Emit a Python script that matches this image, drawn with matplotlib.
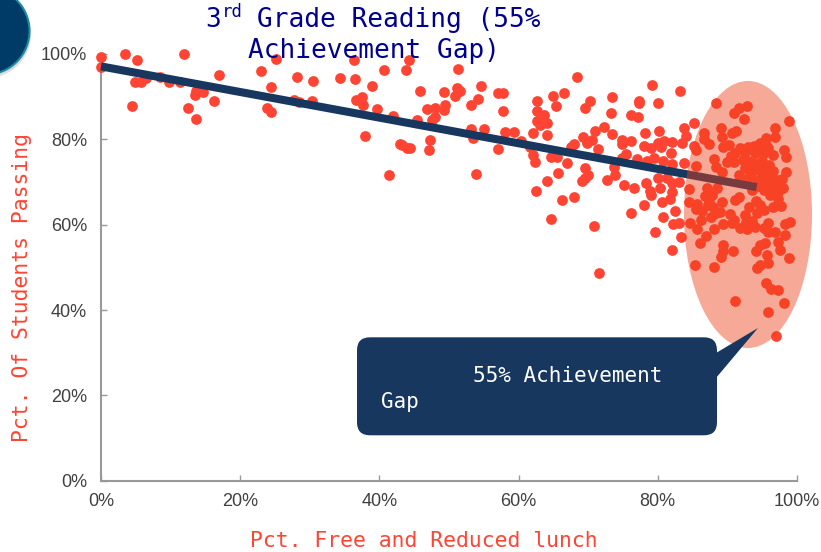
import matplotlib
matplotlib.use("Agg")
import matplotlib.pyplot as plt
from matplotlib.patches import Circle, Ellipse, FancyBboxPatch, Polygon

# (pct free/reduced lunch, pct passing)
low_lunch = [
    (0, 99.2), (0, 97), (3.5, 100), (5.2, 98.6), (4.9, 93.5), (5.7, 93.5), (6.4, 94.4), (4.5, 87.7),
    (8.5, 94.7), (9.7, 93.5), (11.4, 93.5), (11.9, 100), (13.5, 90.5), (13.7, 91.4), (14.7, 91.2),
    (12.5, 87.3), (13.6, 84.7), (16.3, 88.9), (17, 95.1), (23, 96), (24.4, 92.3), (25.2, 98.9),
    (23.8, 87.3), (24.4, 86.5), (28.1, 94.5), (30.5, 93.6), (27.7, 89.2), (28.4, 88.8), (30.3, 89.1),
    (34.3, 94.3), (36.5, 94.1), (36.3, 98.5), (38.9, 92.5), (37.5, 89.9), (36.7, 89.2), (37.7, 88),
    (39.6, 87), (38, 80.7), (41.9, 85.5), (41.4, 71.7), (40.6, 96.2), (42.9, 79), (43.2, 78.7),
    (43.9, 78), (44.2, 98.6), (43.8, 96.2),
]
mid_lunch = [
    (51.25, 96.5), (45.8, 91.3), (49.3, 91.1), (51.1, 92), (51.6, 91.3), (50.9, 90.2), (54.6, 92.6),
    (54.1, 89.5), (53.2, 88.1), (57.1, 90.9), (57.8, 90.9), (57.7, 86.6), (46.9, 87.2), (48, 87.3),
    (49.3, 86.9), (49.4, 88.1), (48, 85.2), (47.5, 84.5), (45.4, 84.5), (47.3, 79.8), (47.1, 77.4),
    (44.4, 78), (53.1, 82.4), (53.4, 80.2), (55.1, 82.5), (58.1, 81.8), (59.4, 81.7), (57.1, 77.7),
    (53.9, 71.9), (60.4, 79.5), (61.7, 78.1), (62, 76.3), (62.4, 74.6), (62.6, 88.9), (62.6, 86.6),
    (63.6, 85.7), (62.7, 84.2), (63.1, 83.4), (64.1, 83.8), (62.1, 81.4), (64.1, 80.9), (65, 90.2),
    (66.5, 90.8), (65.4, 87.7), (68.4, 94.5), (70.2, 89.1), (69.6, 87.4), (73.4, 90), (73.3, 86.2),
    (76.1, 85.8), (77.2, 85.2), (77.3, 89.1), (77.3, 88.6), (80, 88.6), (79.1, 92.7), (83.2, 91.3),
    (83.8, 82.7), (84.1, 80.8), (83.5, 79.1), (80.2, 82), (78.1, 81.4), (76.1, 79.6), (74.9, 79.9),
    (74.9, 78.9), (73.4, 81.2), (72.3, 82.8), (71, 82), (69.2, 80.6), (70.6, 79.9), (69.8, 79.1),
    (68, 78.9), (67.5, 78.1), (71.4, 77.7), (75.5, 76.5), (74.8, 75.7), (77, 75.5), (78, 78.5),
    (79, 77.9), (80, 79.2), (80.9, 79.7), (80.4, 78.1), (82.1, 79.4), (81.9, 76.7), (79.4, 75.7),
    (78.5, 75), (80.8, 75), (82.1, 74.2), (83.7, 74.4), (64.6, 75.8), (65.5, 75.8), (66.9, 74.4),
    (69.6, 73.4), (65.6, 72), (64.1, 70.2), (62.5, 67.8), (66.2, 65.8), (68, 66.4), (64.7, 61.4),
    (70.9, 59.7), (71.6, 48.6), (70, 71.6), (69.6, 70.9), (69.1, 70.3), (72.7, 70.4), (73.8, 71.6),
    (73.7, 73.6), (75.2, 69.2), (76.6, 68.7), (78.3, 69.7), (78.9, 68), (79, 67), (78, 64.6),
    (76.1, 62.7), (80.1, 70.9), (81.3, 70.9), (80.3, 68.5), (80.6, 65.4), (82, 67.7), (81.8, 66),
    (82, 69.7), (83, 70.1), (80.7, 61.8), (82.5, 63.2), (79.6, 58.2), (82.2, 60.2), (83.1, 60.3),
    (83.4, 57.1), (82.1, 54),
]
high_lunch = [
    (85.2, 83.8), (88.3, 88.4), (91.6, 87.3), (92.8, 87.8), (90.9, 86.1), (92.4, 84.7), (98.9, 84.2),
    (96.9, 82.6), (89.1, 82.7), (91.3, 82), (90.6, 81.6), (86.6, 81.6), (89.2, 80.5), (96.9, 80.5),
    (95.6, 80.2), (86.6, 80), (87.3, 78.9), (85.2, 78.4), (85.5, 77.5), (89.4, 78.1), (90.3, 78.7),
    (94.7, 79.1), (93, 78.3), (91.8, 77.9), (95.9, 77.9), (98.2, 77.4), (98.4, 75.9), (96.6, 76.3),
    (94, 76.7), (91.1, 76.7), (95.2, 76.7), (88.1, 75.5), (89.9, 74.8), (90.9, 74.8), (92.3, 75.2),
    (88.4, 73.5), (85.5, 73.8), (89.2, 72.4), (92.5, 73.2), (94.7, 74), (93.7, 72.8), (91.6, 71.7),
    (93.3, 71.7), (98.4, 72.3), (97.8, 70.6), (95.2, 71.3), (97.1, 70.5), (94.2, 70.5), (95.7, 69.7),
    (98, 68.5), (93.5, 68.1), (95.2, 68.1), (96.1, 67), (84.5, 68.3), (87, 68.5), (88.5, 68.5),
    (86.8, 66.7), (87.8, 67), (91.6, 66.6), (91.1, 65.8), (84.5, 65.4), (85.7, 64.9), (89.2, 65.2),
    (87.3, 65.4), (85.5, 63.7), (88, 64.2), (97.3, 66), (96.5, 64.2), (97.7, 64.4), (93.1, 64.2),
    (94.7, 64.5), (88.4, 62.7), (87.7, 61.7), (86.2, 61.1), (90.4, 62.5), (92.5, 62.3), (94.2, 62.7),
    (89.4, 60.2), (90.6, 60.5), (84.6, 60.3), (85.6, 58.9), (88.1, 59), (91.8, 59.2), (92.8, 58.9),
    (94, 59.5), (95.9, 60.3), (95.2, 59.2), (95.9, 58.4), (96.9, 58.3), (99, 60.6), (98.3, 60.1),
    (98.3, 57.6), (86.9, 57.4), (86, 55.8), (97.3, 56), (97.6, 54.1), (95.4, 55.6), (94.7, 55.3),
    (94.1, 53.8), (89.3, 55.3), (90.8, 53.8), (89.4, 53.9), (89.1, 52.5), (95.7, 52.9), (98.9, 52.1),
    (85.3, 50.5), (88.1, 50), (95.9, 51), (94.7, 50.6), (94.2, 49.9), (95.5, 46.4), (96.2, 44.9),
    (97.2, 44.6), (91.1, 42.2), (98.1, 41.7), (95.8, 39.6), (97, 33.9),
    (95, 75), (96, 74), (96.5, 72.5), (96.8, 69.5), (94.8, 72.5), (93, 75), (95.8, 73),
    (93.8, 74.5), (92.5, 77), (93.8, 78.5), (94.6, 77.5), (95.5, 78.7), (96.4, 71.2), (96.2, 68.5),
    (97.2, 67.7), (94.6, 69), (93.9, 68.9), (92.8, 70.7), (90.5, 76), (87.2, 64.6), (86.4, 63.3),
    (88.9, 63), (93.6, 60.8), (92.7, 60.7), (91, 61.2), (95.3, 63.4), (94.1, 65.6),
]
trend_x = [0, 94.2]
trend_y = [97.1, 68.8]
ticks = [0, 20, 40, 60, 80, 100]
tick_labels = ["0%", "20%", "40%", "60%", "80%", "100%"]

W, H = 821, 552
RED = "#FF4433"
NAVY = "#17375E"
MONO = "DejaVu Sans Mono"

fig = plt.figure(figsize=(W / 100, H / 100), dpi=100)
ax = fig.add_axes([101 / W, 1 - 480.7 / H, (797 - 101) / W, (480.7 - 54) / H])

points = low_lunch + mid_lunch + high_lunch
ax.scatter([p[0] for p in points], [p[1] for p in points], s=60, color=RED, linewidths=0,
           clip_on=False, zorder=3)
ax.plot(trend_x, trend_y, color=NAVY, lw=5.8, solid_capstyle="butt", clip_on=False, zorder=4)

ax.set_xlim(0, 100)
ax.set_ylim(0, 100)
ax.set_xticks(ticks, tick_labels)
ax.set_yticks(ticks, tick_labels)
ax.tick_params(direction="in", length=4, width=1, color="#999999", labelcolor="#404040",
               labelsize=13, labelfontfamily="Liberation Sans")
ax.tick_params(axis="x", pad=9)
ax.tick_params(axis="y", pad=10)
for side in ["top", "right"]:
    ax.spines[side].set_visible(False)
for side in ["left", "bottom"]:
    ax.spines[side].set_color("#999999")
    ax.spines[side].set_linewidth(1.5)

# decoration layer in image pixels
top = fig.add_axes([0, 0, 1, 1])
top.set_xlim(0, W)
top.set_ylim(H, 0)
top.axis("off")
top.patch.set_alpha(0)

top.add_patch(Ellipse((748, 214.5), 128, 267, facecolor="#EE4018", alpha=0.45, linewidth=0))
top.add_patch(Polygon([(716, 353), (758, 328), (716, 378)], facecolor=NAVY, linewidth=0))
top.add_patch(FancyBboxPatch((370, 350.3), 334, 72, boxstyle="round,pad=13,rounding_size=13",
                             facecolor=NAVY, linewidth=0))
top.text(473, 376, "55% Achievement", color="white", family=MONO, fontsize=15, va="center", ha="left")
top.text(381, 402, "Gap", color="white", family=MONO, fontsize=15, va="center", ha="left")

# badge in the corner, cut off by the image edge
top.add_patch(Circle((-13, 34), 44, facecolor="#BBBBBB", alpha=0.5, linewidth=0))
top.add_patch(Circle((-14, 31), 43.5, facecolor="#003A66", edgecolor="#1A8AA0", linewidth=1.5))

top.text(205, 27, "3", color="#000090", family=MONO, fontsize=18.8, ha="left", va="baseline")
top.text(222, 17, "rd", color="#000090", family=MONO, fontsize=12.5, ha="left", va="baseline")
top.text(257, 27, "Grade Reading (55%", color="#000090", family=MONO, fontsize=18.8, ha="left", va="baseline")
top.text(248, 58, "Achievement Gap)", color="#000090", family=MONO, fontsize=18.8, ha="left", va="baseline")

top.text(22, 288, "Pct. Of Students Passing", color=RED, family=MONO, fontsize=15.4,
         rotation=90, ha="center", va="center")
top.text(424, 541, "Pct. Free and Reduced lunch", color=RED, family=MONO, fontsize=15.4,
         ha="center", va="center")

fig.savefig("out.png", dpi=100)
